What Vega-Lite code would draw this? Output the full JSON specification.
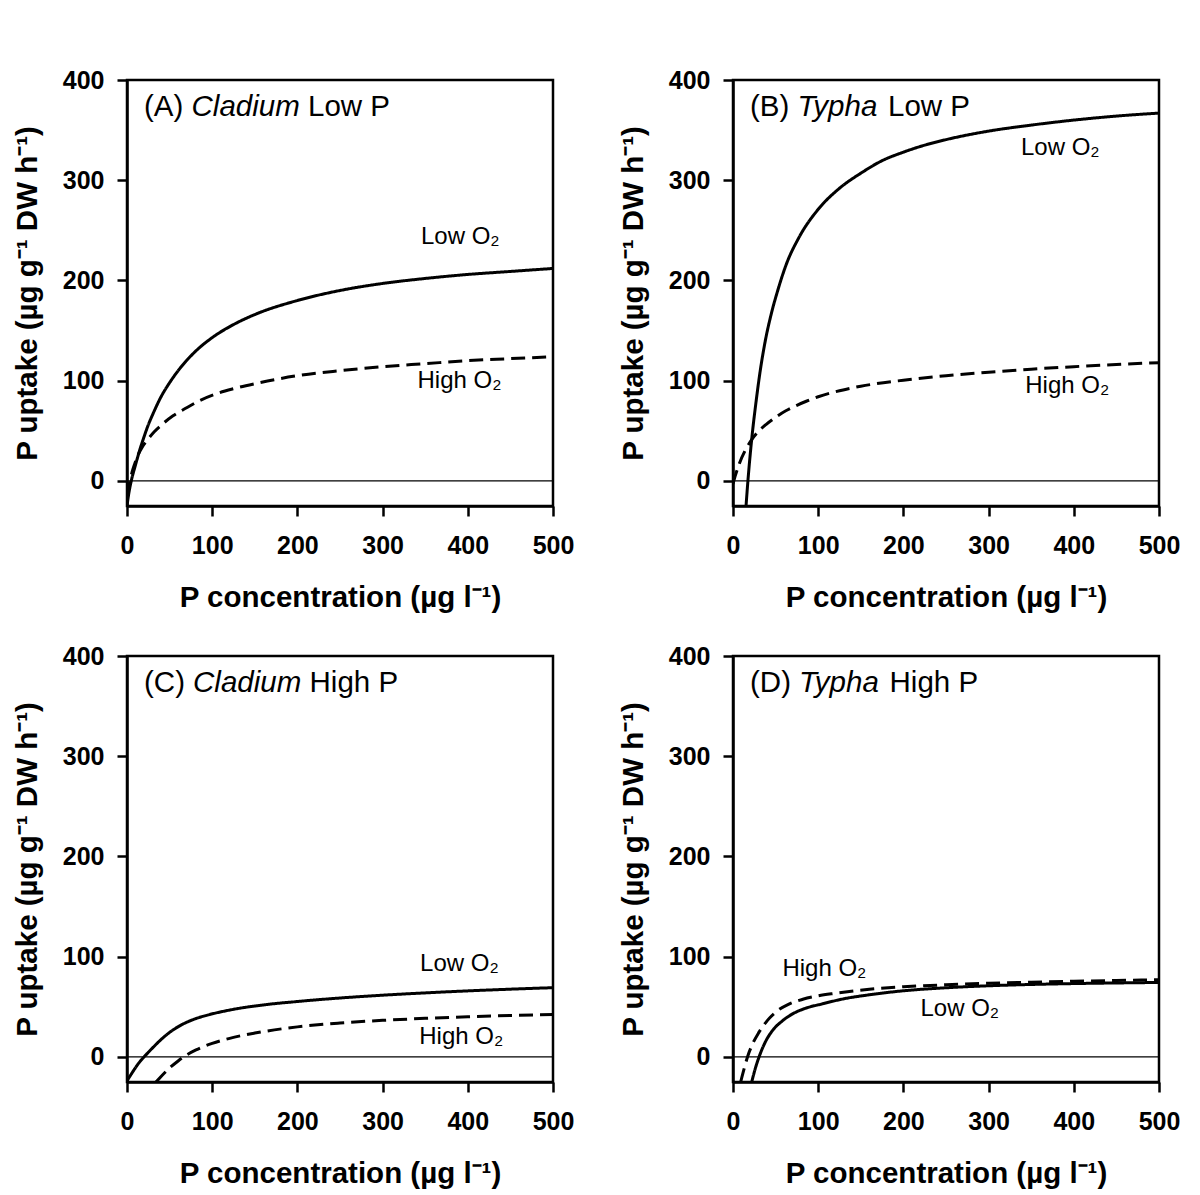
{
  "$schema": "https://vega.github.io/schema/vega-lite/v6.json",
  "background": "white",
  "padding": {"left": 11, "top": 66, "right": 5, "bottom": 5},
  "datasets": {
    "curves": [
      {"panel":"A","o2":"Low O2","x":0,"y":-25},{"panel":"A","o2":"Low O2","x":2,"y":-13},{"panel":"A","o2":"Low O2","x":5,"y":0},{"panel":"A","o2":"Low O2","x":10,"y":16},{"panel":"A","o2":"Low O2","x":15,"y":31},{"panel":"A","o2":"Low O2","x":20,"y":44},{"panel":"A","o2":"Low O2","x":25,"y":56},{"panel":"A","o2":"Low O2","x":30,"y":66},{"panel":"A","o2":"Low O2","x":40,"y":84},{"panel":"A","o2":"Low O2","x":50,"y":98},{"panel":"A","o2":"Low O2","x":60,"y":110},{"panel":"A","o2":"Low O2","x":80,"y":129},{"panel":"A","o2":"Low O2","x":100,"y":143},{"panel":"A","o2":"Low O2","x":125,"y":156},{"panel":"A","o2":"Low O2","x":150,"y":166},{"panel":"A","o2":"Low O2","x":200,"y":180},{"panel":"A","o2":"Low O2","x":250,"y":190},{"panel":"A","o2":"Low O2","x":300,"y":197},{"panel":"A","o2":"Low O2","x":350,"y":202},{"panel":"A","o2":"Low O2","x":400,"y":206},{"panel":"A","o2":"Low O2","x":450,"y":209},{"panel":"A","o2":"Low O2","x":500,"y":212},
      {"panel":"A","o2":"High O2","x":0,"y":-14},{"panel":"A","o2":"High O2","x":2,"y":-6},{"panel":"A","o2":"High O2","x":4,"y":2},{"panel":"A","o2":"High O2","x":6,"y":9},{"panel":"A","o2":"High O2","x":9,"y":17},{"panel":"A","o2":"High O2","x":13,"y":26},{"panel":"A","o2":"High O2","x":18,"y":34},{"panel":"A","o2":"High O2","x":25,"y":42},{"panel":"A","o2":"High O2","x":32,"y":49},{"panel":"A","o2":"High O2","x":42,"y":57},{"panel":"A","o2":"High O2","x":54,"y":65},{"panel":"A","o2":"High O2","x":70,"y":73},{"panel":"A","o2":"High O2","x":85,"y":80},{"panel":"A","o2":"High O2","x":105,"y":87},{"panel":"A","o2":"High O2","x":125,"y":92},{"panel":"A","o2":"High O2","x":150,"y":97},{"panel":"A","o2":"High O2","x":200,"y":105},{"panel":"A","o2":"High O2","x":250,"y":110},{"panel":"A","o2":"High O2","x":300,"y":114},{"panel":"A","o2":"High O2","x":350,"y":117},{"panel":"A","o2":"High O2","x":400,"y":120},{"panel":"A","o2":"High O2","x":450,"y":122},{"panel":"A","o2":"High O2","x":500,"y":124},
      {"panel":"B","o2":"Low O2","x":15.3,"y":-25},{"panel":"B","o2":"Low O2","x":17.5,"y":0},{"panel":"B","o2":"Low O2","x":19.5,"y":20},{"panel":"B","o2":"Low O2","x":22.5,"y":46},{"panel":"B","o2":"Low O2","x":27.5,"y":82},{"panel":"B","o2":"Low O2","x":32.5,"y":113},{"panel":"B","o2":"Low O2","x":37.5,"y":138},{"panel":"B","o2":"Low O2","x":45,"y":167},{"panel":"B","o2":"Low O2","x":52.5,"y":190},{"panel":"B","o2":"Low O2","x":62.5,"y":216},{"panel":"B","o2":"Low O2","x":77.5,"y":243},{"panel":"B","o2":"Low O2","x":100,"y":271},{"panel":"B","o2":"Low O2","x":125,"y":292},{"panel":"B","o2":"Low O2","x":150,"y":307},{"panel":"B","o2":"Low O2","x":175,"y":319.5},{"panel":"B","o2":"Low O2","x":200,"y":328},{"panel":"B","o2":"Low O2","x":225,"y":335},{"panel":"B","o2":"Low O2","x":250,"y":340.5},{"panel":"B","o2":"Low O2","x":300,"y":349},{"panel":"B","o2":"Low O2","x":350,"y":355},{"panel":"B","o2":"Low O2","x":400,"y":360},{"panel":"B","o2":"Low O2","x":450,"y":364},{"panel":"B","o2":"Low O2","x":500,"y":367},
      {"panel":"B","o2":"High O2","x":0,"y":-3},{"panel":"B","o2":"High O2","x":3,"y":6},{"panel":"B","o2":"High O2","x":7.5,"y":17.5},{"panel":"B","o2":"High O2","x":14,"y":30},{"panel":"B","o2":"High O2","x":21,"y":40},{"panel":"B","o2":"High O2","x":30,"y":49.5},{"panel":"B","o2":"High O2","x":39,"y":56.5},{"panel":"B","o2":"High O2","x":50,"y":63.5},{"panel":"B","o2":"High O2","x":62,"y":70},{"panel":"B","o2":"High O2","x":75,"y":75.5},{"panel":"B","o2":"High O2","x":86,"y":79.5},{"panel":"B","o2":"High O2","x":100,"y":84},{"panel":"B","o2":"High O2","x":125,"y":90},{"panel":"B","o2":"High O2","x":150,"y":94.5},{"panel":"B","o2":"High O2","x":200,"y":100.5},{"panel":"B","o2":"High O2","x":250,"y":105},{"panel":"B","o2":"High O2","x":300,"y":108.5},{"panel":"B","o2":"High O2","x":350,"y":111.5},{"panel":"B","o2":"High O2","x":400,"y":114},{"panel":"B","o2":"High O2","x":450,"y":116.2},{"panel":"B","o2":"High O2","x":500,"y":118},
      {"panel":"C","o2":"Low O2","x":0,"y":-24},{"panel":"C","o2":"Low O2","x":4,"y":-18.5},{"panel":"C","o2":"Low O2","x":8,"y":-13.2},{"panel":"C","o2":"Low O2","x":12,"y":-8.2},{"panel":"C","o2":"Low O2","x":16,"y":-3.8},{"panel":"C","o2":"Low O2","x":20,"y":0},{"panel":"C","o2":"Low O2","x":25,"y":4.6},{"panel":"C","o2":"Low O2","x":30,"y":9},{"panel":"C","o2":"Low O2","x":38,"y":15.8},{"panel":"C","o2":"Low O2","x":50,"y":24.5},{"panel":"C","o2":"Low O2","x":65,"y":32.5},{"panel":"C","o2":"Low O2","x":80,"y":38},{"panel":"C","o2":"Low O2","x":97,"y":42.3},{"panel":"C","o2":"Low O2","x":125,"y":47.5},{"panel":"C","o2":"Low O2","x":163,"y":52.2},{"panel":"C","o2":"Low O2","x":200,"y":55.3},{"panel":"C","o2":"Low O2","x":250,"y":58.8},{"panel":"C","o2":"Low O2","x":300,"y":61.6},{"panel":"C","o2":"Low O2","x":350,"y":63.9},{"panel":"C","o2":"Low O2","x":400,"y":65.9},{"panel":"C","o2":"Low O2","x":450,"y":67.6},{"panel":"C","o2":"Low O2","x":500,"y":69.1},
      {"panel":"C","o2":"High O2","x":34,"y":-25},{"panel":"C","o2":"High O2","x":40,"y":-19.5},{"panel":"C","o2":"High O2","x":50,"y":-11},{"panel":"C","o2":"High O2","x":60,"y":-4},{"panel":"C","o2":"High O2","x":65,"y":-0.8},{"panel":"C","o2":"High O2","x":70,"y":2},{"panel":"C","o2":"High O2","x":81,"y":7},{"panel":"C","o2":"High O2","x":100,"y":13.5},{"panel":"C","o2":"High O2","x":125,"y":19.5},{"panel":"C","o2":"High O2","x":150,"y":23.8},{"panel":"C","o2":"High O2","x":200,"y":30},{"panel":"C","o2":"High O2","x":250,"y":33.8},{"panel":"C","o2":"High O2","x":300,"y":36.5},{"panel":"C","o2":"High O2","x":350,"y":38.5},{"panel":"C","o2":"High O2","x":400,"y":40.1},{"panel":"C","o2":"High O2","x":450,"y":41.3},{"panel":"C","o2":"High O2","x":500,"y":42.3},
      {"panel":"D","o2":"Low O2","x":22,"y":-25},{"panel":"D","o2":"Low O2","x":26,"y":-12},{"panel":"D","o2":"Low O2","x":30.6,"y":0},{"panel":"D","o2":"Low O2","x":38,"y":15},{"panel":"D","o2":"Low O2","x":47,"y":27},{"panel":"D","o2":"Low O2","x":58,"y":36},{"panel":"D","o2":"Low O2","x":70,"y":43},{"panel":"D","o2":"Low O2","x":85,"y":48.5},{"panel":"D","o2":"Low O2","x":105,"y":53},{"panel":"D","o2":"Low O2","x":130,"y":58},{"panel":"D","o2":"Low O2","x":160,"y":62},{"panel":"D","o2":"Low O2","x":200,"y":66},{"panel":"D","o2":"Low O2","x":250,"y":69},{"panel":"D","o2":"Low O2","x":300,"y":71},{"panel":"D","o2":"Low O2","x":350,"y":72.3},{"panel":"D","o2":"Low O2","x":400,"y":73.2},{"panel":"D","o2":"Low O2","x":450,"y":73.8},{"panel":"D","o2":"Low O2","x":500,"y":74.3},
      {"panel":"D","o2":"High O2","x":9,"y":-25},{"panel":"D","o2":"High O2","x":13,"y":-12},{"panel":"D","o2":"High O2","x":17,"y":0},{"panel":"D","o2":"High O2","x":23,"y":13},{"panel":"D","o2":"High O2","x":30,"y":24},{"panel":"D","o2":"High O2","x":40,"y":36},{"panel":"D","o2":"High O2","x":52,"y":46},{"panel":"D","o2":"High O2","x":65,"y":52.5},{"panel":"D","o2":"High O2","x":82,"y":57.5},{"panel":"D","o2":"High O2","x":100,"y":61},{"panel":"D","o2":"High O2","x":120,"y":63.5},{"panel":"D","o2":"High O2","x":160,"y":67.5},{"panel":"D","o2":"High O2","x":200,"y":70},{"panel":"D","o2":"High O2","x":250,"y":72},{"panel":"D","o2":"High O2","x":300,"y":73.5},{"panel":"D","o2":"High O2","x":350,"y":74.6},{"panel":"D","o2":"High O2","x":400,"y":75.5},{"panel":"D","o2":"High O2","x":450,"y":76.3},{"panel":"D","o2":"High O2","x":500,"y":77}
    ],
    "labels": [
      {"panel":"A","kind":"note","label":"Low O₂","x":345,"y":236},
      {"panel":"A","kind":"note","label":"High O₂","x":341,"y":93},
      {"panel":"B","kind":"note","label":"Low O₂","x":338,"y":325},
      {"panel":"B","kind":"note","label":"High O₂","x":343,"y":88},
      {"panel":"C","kind":"note","label":"Low O₂","x":344,"y":86},
      {"panel":"C","kind":"note","label":"High O₂","x":343,"y":13},
      {"panel":"D","kind":"note","label":"High O₂","x":58,"y":81},
      {"panel":"D","kind":"note","label":"Low O₂","x":220,"y":41},
      {"panel":"A","kind":"tag","label":"(A)","x":20,"y":364},
      {"panel":"A","kind":"genus","label":"Cladium","x":20,"y":364},
      {"panel":"A","kind":"rest","label":"Low P","x":20,"y":364},
      {"panel":"B","kind":"tag","label":"(B)","x":20,"y":364},
      {"panel":"B","kind":"genus","label":"Typha","x":20,"y":364},
      {"panel":"B","kind":"rest","label":"Low P","x":20,"y":364},
      {"panel":"C","kind":"tag","label":"(C)","x":20,"y":364},
      {"panel":"C","kind":"genus","label":"Cladium","x":20,"y":364},
      {"panel":"C","kind":"rest","label":"High P","x":20,"y":364},
      {"panel":"D","kind":"tag","label":"(D)","x":20,"y":364},
      {"panel":"D","kind":"genus","label":"Typha","x":20,"y":364},
      {"panel":"D","kind":"rest","label":"High P","x":20,"y":364}
    ]
  },
  "columns": 2,
  "spacing": {"row": 150, "column": 180},
  "bounds": "flush",
  "concat": [
    {
      "width": 426, "height": 426,
      "layer": [
        {"data": {"values": [{}]}, "mark": {"type": "rule", "strokeWidth": 1.2, "color": "black"}, "encoding": {"y": {"datum": 0, "type": "quantitative", "scale": {"domain": [-25, 400], "nice": false}, "title": "P uptake (µg g⁻¹ DW h⁻¹)"}}},
        {"data": {"name": "curves"}, "transform": [{"filter": "datum.panel === 'A'"}], "mark": {"type": "line", "color": "black", "strokeWidth": 3, "clip": true, "interpolate": "monotone"},
         "encoding": {"x": {"field": "x", "type": "quantitative", "scale": {"domain": [0, 500], "nice": false}, "axis": {"values": [0,100,200,300,400,500]}, "title": "P concentration (µg l⁻¹)"},
                      "y": {"field": "y", "type": "quantitative", "scale": {"domain": [-25, 400], "nice": false}, "axis": {"values": [0,100,200,300,400]}, "title": "P uptake (µg g⁻¹ DW h⁻¹)"},
                      "strokeDash": {"field": "o2", "type": "nominal", "scale": {"domain": ["Low O2", "High O2"], "range": [[1, 0], [14, 7]]}, "legend": null}}},
        {"data": {"name": "labels"}, "transform": [{"filter": "datum.panel === 'A' && datum.kind === 'note'"}], "mark": {"type": "text", "align": "left", "baseline": "alphabetic", "fontSize": 24, "color": "black"},
         "encoding": {"x": {"field": "x", "type": "quantitative", "title": "P concentration (µg l⁻¹)"}, "y": {"field": "y", "type": "quantitative", "title": "P uptake (µg g⁻¹ DW h⁻¹)"}, "text": {"field": "label"}}},
        {"data": {"name": "labels"}, "transform": [{"filter": "datum.panel === 'A' && datum.kind === 'tag'"}], "mark": {"type": "text", "align": "left", "baseline": "alphabetic", "fontSize": 29.5, "color": "black"},
         "encoding": {"x": {"field": "x", "type": "quantitative", "title": "P concentration (µg l⁻¹)"}, "y": {"field": "y", "type": "quantitative", "title": "P uptake (µg g⁻¹ DW h⁻¹)"}, "text": {"field": "label"}}},
        {"data": {"name": "labels"}, "transform": [{"filter": "datum.panel === 'A' && datum.kind === 'genus'"}], "mark": {"type": "text", "align": "left", "baseline": "alphabetic", "fontSize": 29.5, "fontStyle": "italic", "dx": 47.5, "color": "black"},
         "encoding": {"x": {"field": "x", "type": "quantitative", "title": "P concentration (µg l⁻¹)"}, "y": {"field": "y", "type": "quantitative", "title": "P uptake (µg g⁻¹ DW h⁻¹)"}, "text": {"field": "label"}}},
        {"data": {"name": "labels"}, "transform": [{"filter": "datum.panel === 'A' && datum.kind === 'rest'"}], "mark": {"type": "text", "align": "left", "baseline": "alphabetic", "fontSize": 29.5, "dx": 164, "color": "black"},
         "encoding": {"x": {"field": "x", "type": "quantitative", "title": "P concentration (µg l⁻¹)"}, "y": {"field": "y", "type": "quantitative", "title": "P uptake (µg g⁻¹ DW h⁻¹)"}, "text": {"field": "label"}}}
      ]
    },
    {
      "width": 426, "height": 426,
      "layer": [
        {"data": {"values": [{}]}, "mark": {"type": "rule", "strokeWidth": 1.2, "color": "black"}, "encoding": {"y": {"datum": 0, "type": "quantitative", "scale": {"domain": [-25, 400], "nice": false}, "title": "P uptake (µg g⁻¹ DW h⁻¹)"}}},
        {"data": {"name": "curves"}, "transform": [{"filter": "datum.panel === 'B'"}], "mark": {"type": "line", "color": "black", "strokeWidth": 3, "clip": true, "interpolate": "monotone"},
         "encoding": {"x": {"field": "x", "type": "quantitative", "scale": {"domain": [0, 500], "nice": false}, "axis": {"values": [0,100,200,300,400,500]}, "title": "P concentration (µg l⁻¹)"},
                      "y": {"field": "y", "type": "quantitative", "scale": {"domain": [-25, 400], "nice": false}, "axis": {"values": [0,100,200,300,400]}, "title": "P uptake (µg g⁻¹ DW h⁻¹)"},
                      "strokeDash": {"field": "o2", "type": "nominal", "scale": {"domain": ["Low O2", "High O2"], "range": [[1, 0], [14, 7]]}, "legend": null}}},
        {"data": {"name": "labels"}, "transform": [{"filter": "datum.panel === 'B' && datum.kind === 'note'"}], "mark": {"type": "text", "align": "left", "baseline": "alphabetic", "fontSize": 24, "color": "black"},
         "encoding": {"x": {"field": "x", "type": "quantitative", "title": "P concentration (µg l⁻¹)"}, "y": {"field": "y", "type": "quantitative", "title": "P uptake (µg g⁻¹ DW h⁻¹)"}, "text": {"field": "label"}}},
        {"data": {"name": "labels"}, "transform": [{"filter": "datum.panel === 'B' && datum.kind === 'tag'"}], "mark": {"type": "text", "align": "left", "baseline": "alphabetic", "fontSize": 29.5, "color": "black"},
         "encoding": {"x": {"field": "x", "type": "quantitative", "title": "P concentration (µg l⁻¹)"}, "y": {"field": "y", "type": "quantitative", "title": "P uptake (µg g⁻¹ DW h⁻¹)"}, "text": {"field": "label"}}},
        {"data": {"name": "labels"}, "transform": [{"filter": "datum.panel === 'B' && datum.kind === 'genus'"}], "mark": {"type": "text", "align": "left", "baseline": "alphabetic", "fontSize": 29.5, "fontStyle": "italic", "dx": 47.5, "color": "black"},
         "encoding": {"x": {"field": "x", "type": "quantitative", "title": "P concentration (µg l⁻¹)"}, "y": {"field": "y", "type": "quantitative", "title": "P uptake (µg g⁻¹ DW h⁻¹)"}, "text": {"field": "label"}}},
        {"data": {"name": "labels"}, "transform": [{"filter": "datum.panel === 'B' && datum.kind === 'rest'"}], "mark": {"type": "text", "align": "left", "baseline": "alphabetic", "fontSize": 29.5, "dx": 138, "color": "black"},
         "encoding": {"x": {"field": "x", "type": "quantitative", "title": "P concentration (µg l⁻¹)"}, "y": {"field": "y", "type": "quantitative", "title": "P uptake (µg g⁻¹ DW h⁻¹)"}, "text": {"field": "label"}}}
      ]
    },
    {
      "width": 426, "height": 426,
      "layer": [
        {"data": {"values": [{}]}, "mark": {"type": "rule", "strokeWidth": 1.2, "color": "black"}, "encoding": {"y": {"datum": 0, "type": "quantitative", "scale": {"domain": [-25, 400], "nice": false}, "title": "P uptake (µg g⁻¹ DW h⁻¹)"}}},
        {"data": {"name": "curves"}, "transform": [{"filter": "datum.panel === 'C'"}], "mark": {"type": "line", "color": "black", "strokeWidth": 3, "clip": true, "interpolate": "monotone"},
         "encoding": {"x": {"field": "x", "type": "quantitative", "scale": {"domain": [0, 500], "nice": false}, "axis": {"values": [0,100,200,300,400,500]}, "title": "P concentration (µg l⁻¹)"},
                      "y": {"field": "y", "type": "quantitative", "scale": {"domain": [-25, 400], "nice": false}, "axis": {"values": [0,100,200,300,400]}, "title": "P uptake (µg g⁻¹ DW h⁻¹)"},
                      "strokeDash": {"field": "o2", "type": "nominal", "scale": {"domain": ["Low O2", "High O2"], "range": [[1, 0], [14, 7]]}, "legend": null}}},
        {"data": {"name": "labels"}, "transform": [{"filter": "datum.panel === 'C' && datum.kind === 'note'"}], "mark": {"type": "text", "align": "left", "baseline": "alphabetic", "fontSize": 24, "color": "black"},
         "encoding": {"x": {"field": "x", "type": "quantitative", "title": "P concentration (µg l⁻¹)"}, "y": {"field": "y", "type": "quantitative", "title": "P uptake (µg g⁻¹ DW h⁻¹)"}, "text": {"field": "label"}}},
        {"data": {"name": "labels"}, "transform": [{"filter": "datum.panel === 'C' && datum.kind === 'tag'"}], "mark": {"type": "text", "align": "left", "baseline": "alphabetic", "fontSize": 29.5, "color": "black"},
         "encoding": {"x": {"field": "x", "type": "quantitative", "title": "P concentration (µg l⁻¹)"}, "y": {"field": "y", "type": "quantitative", "title": "P uptake (µg g⁻¹ DW h⁻¹)"}, "text": {"field": "label"}}},
        {"data": {"name": "labels"}, "transform": [{"filter": "datum.panel === 'C' && datum.kind === 'genus'"}], "mark": {"type": "text", "align": "left", "baseline": "alphabetic", "fontSize": 29.5, "fontStyle": "italic", "dx": 49, "color": "black"},
         "encoding": {"x": {"field": "x", "type": "quantitative", "title": "P concentration (µg l⁻¹)"}, "y": {"field": "y", "type": "quantitative", "title": "P uptake (µg g⁻¹ DW h⁻¹)"}, "text": {"field": "label"}}},
        {"data": {"name": "labels"}, "transform": [{"filter": "datum.panel === 'C' && datum.kind === 'rest'"}], "mark": {"type": "text", "align": "left", "baseline": "alphabetic", "fontSize": 29.5, "dx": 165.5, "color": "black"},
         "encoding": {"x": {"field": "x", "type": "quantitative", "title": "P concentration (µg l⁻¹)"}, "y": {"field": "y", "type": "quantitative", "title": "P uptake (µg g⁻¹ DW h⁻¹)"}, "text": {"field": "label"}}}
      ]
    },
    {
      "width": 426, "height": 426,
      "layer": [
        {"data": {"values": [{}]}, "mark": {"type": "rule", "strokeWidth": 1.2, "color": "black"}, "encoding": {"y": {"datum": 0, "type": "quantitative", "scale": {"domain": [-25, 400], "nice": false}, "title": "P uptake (µg g⁻¹ DW h⁻¹)"}}},
        {"data": {"name": "curves"}, "transform": [{"filter": "datum.panel === 'D'"}], "mark": {"type": "line", "color": "black", "strokeWidth": 3, "clip": true, "interpolate": "monotone"},
         "encoding": {"x": {"field": "x", "type": "quantitative", "scale": {"domain": [0, 500], "nice": false}, "axis": {"values": [0,100,200,300,400,500]}, "title": "P concentration (µg l⁻¹)"},
                      "y": {"field": "y", "type": "quantitative", "scale": {"domain": [-25, 400], "nice": false}, "axis": {"values": [0,100,200,300,400]}, "title": "P uptake (µg g⁻¹ DW h⁻¹)"},
                      "strokeDash": {"field": "o2", "type": "nominal", "scale": {"domain": ["Low O2", "High O2"], "range": [[1, 0], [14, 7]]}, "legend": null}}},
        {"data": {"name": "labels"}, "transform": [{"filter": "datum.panel === 'D' && datum.kind === 'note'"}], "mark": {"type": "text", "align": "left", "baseline": "alphabetic", "fontSize": 24, "color": "black"},
         "encoding": {"x": {"field": "x", "type": "quantitative", "title": "P concentration (µg l⁻¹)"}, "y": {"field": "y", "type": "quantitative", "title": "P uptake (µg g⁻¹ DW h⁻¹)"}, "text": {"field": "label"}}},
        {"data": {"name": "labels"}, "transform": [{"filter": "datum.panel === 'D' && datum.kind === 'tag'"}], "mark": {"type": "text", "align": "left", "baseline": "alphabetic", "fontSize": 29.5, "color": "black"},
         "encoding": {"x": {"field": "x", "type": "quantitative", "title": "P concentration (µg l⁻¹)"}, "y": {"field": "y", "type": "quantitative", "title": "P uptake (µg g⁻¹ DW h⁻¹)"}, "text": {"field": "label"}}},
        {"data": {"name": "labels"}, "transform": [{"filter": "datum.panel === 'D' && datum.kind === 'genus'"}], "mark": {"type": "text", "align": "left", "baseline": "alphabetic", "fontSize": 29.5, "fontStyle": "italic", "dx": 49, "color": "black"},
         "encoding": {"x": {"field": "x", "type": "quantitative", "title": "P concentration (µg l⁻¹)"}, "y": {"field": "y", "type": "quantitative", "title": "P uptake (µg g⁻¹ DW h⁻¹)"}, "text": {"field": "label"}}},
        {"data": {"name": "labels"}, "transform": [{"filter": "datum.panel === 'D' && datum.kind === 'rest'"}], "mark": {"type": "text", "align": "left", "baseline": "alphabetic", "fontSize": 29.5, "dx": 139.5, "color": "black"},
         "encoding": {"x": {"field": "x", "type": "quantitative", "title": "P concentration (µg l⁻¹)"}, "y": {"field": "y", "type": "quantitative", "title": "P uptake (µg g⁻¹ DW h⁻¹)"}, "text": {"field": "label"}}}
      ]
    }
  ],
  "config": {
    "font": "Liberation Sans",
    "view": {"stroke": "black", "strokeWidth": 2.5},
    "text": {"font": "Liberation Sans"},
    "axis": {"domainColor": "black", "domainWidth": 2.5, "tickColor": "black", "tickWidth": 2.5, "tickSize": 10, "grid": false,
             "labelFont": "Liberation Sans", "labelFontWeight": "bold", "labelFontSize": 25, "labelColor": "black", "labelFlush": false, "labelOverlap": false,
             "titleFont": "Liberation Sans", "titleFontWeight": "bold", "titleFontSize": 29.5, "titleColor": "black"},
    "axisX": {"labelPadding": 17, "titlePadding": 25},
    "axisY": {"labelPadding": 13, "titlePadding": 20}
  }
}
